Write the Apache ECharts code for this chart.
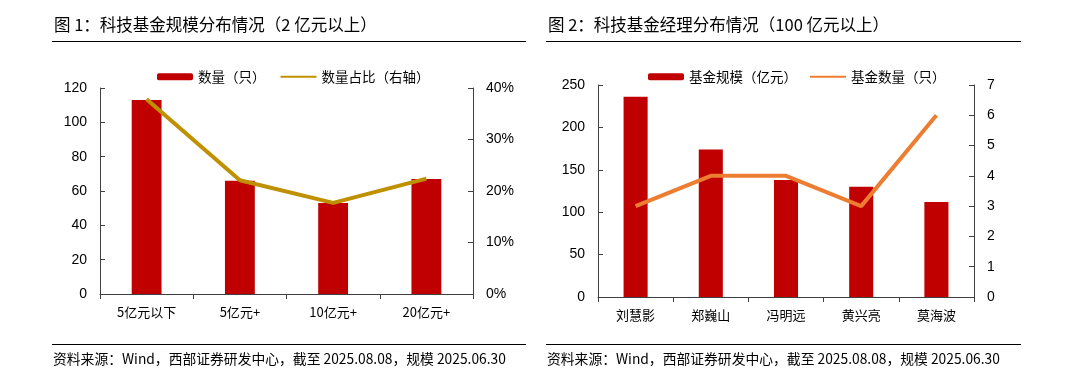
<!DOCTYPE html>
<html>
<head>
<meta charset="utf-8">
<script src="https://cdn.jsdelivr.net/npm/echarts@6/dist/echarts.min.js"></script>
<style>
html,body{margin:0;padding:0;background:#fff;}
#c{width:1071px;height:384px;}
</style>
</head>
<body>
<div id="c"></div>
<script>
// ---- Data ----
const cats1 = ['5亿元以下', '5亿元+', '10亿元+', '20亿元+'];
const count1 = [113, 66, 53, 67];
const share1 = [0.378, 0.221, 0.177, 0.224];
const cats2 = ['刘慧影', '郑巍山', '冯明远', '黄兴亮', '莫海波'];
const scale2 = [236, 174, 138, 130, 112];
const count2 = [3, 4, 4, 3, 6];

const title1 = '图 1：科技基金规模分布情况（2 亿元以上）';
const title2 = '图 2：科技基金经理分布情况（100 亿元以上）';
const source = '资料来源：Wind，西部证券研发中心，截至 2025.08.08，规模 2025.06.30';

const CJK = '"Noto Sans CJK SC", sans-serif';
const NUM = '"Liberation Sans", Arial, sans-serif';
const axisColor = '#404040';

const chart = echarts.init(document.getElementById('c'));

function valAxis(gridIndex, position, min, max, interval, formatter) {
  return {
    type: 'value', gridIndex, position, min, max, interval,
    axisLine: {show: true, lineStyle: {color: axisColor, width: 1}},
    axisTick: {show: true, inside: true, length: 5, lineStyle: {color: axisColor}},
    splitLine: {show: false},
    axisLabel: {color: '#000', fontFamily: NUM, fontSize: 14, margin: 13, formatter}
  };
}
function catAxis(gridIndex, data) {
  return {
    type: 'category', gridIndex, data,
    axisLine: {show: true, lineStyle: {color: axisColor, width: 1}},
    axisTick: {show: true, length: 5, lineStyle: {color: axisColor}},
    axisLabel: {color: '#000', fontFamily: CJK, fontSize: 13, margin: 12}
  };
}
const hideSym = {opacity: 0};

chart.setOption({
  animation: false,
  backgroundColor: '#fff',
  grid: [
    {left: 100, top: 88, width: 373, height: 206},
    {left: 598, top: 85, width: 376, height: 212}
  ],
  legend: [
    {left: 152, top: 65, itemWidth: 36, itemHeight: 7, itemGap: 14,
     textStyle: {fontFamily: CJK, fontSize: 13.5, color: '#000'},
     data: [{name: '数量（只）'}, {name: '数量占比（右轴）', itemStyle: hideSym}]},
    {left: 643, top: 65, itemWidth: 36, itemHeight: 7, itemGap: 12,
     textStyle: {fontFamily: CJK, fontSize: 13.5, color: '#000'},
     data: [{name: '基金规模（亿元）'}, {name: '基金数量（只）', itemStyle: hideSym}]}
  ],
  xAxis: [catAxis(0, cats1), catAxis(1, cats2)],
  yAxis: [
    valAxis(0, 'left', 0, 120, 20),
    valAxis(0, 'right', 0, 0.4, 0.1, v => Math.round(v * 100) + '%'),
    valAxis(1, 'left', 0, 250, 50),
    valAxis(1, 'right', 0, 7, 1)
  ],
  series: [
    {name: '数量（只）', type: 'bar', xAxisIndex: 0, yAxisIndex: 0, data: count1,
     barWidth: '32%', itemStyle: {color: '#C00000'}},
    {name: '数量占比（右轴）', type: 'line', xAxisIndex: 0, yAxisIndex: 1, data: share1,
     symbol: 'none', lineStyle: {color: '#BF9000', width: 4}, itemStyle: {color: '#BF9000'}},
    {name: '基金规模（亿元）', type: 'bar', xAxisIndex: 1, yAxisIndex: 2, data: scale2,
     barWidth: '32%', itemStyle: {color: '#C00000'}},
    {name: '基金数量（只）', type: 'line', xAxisIndex: 1, yAxisIndex: 3, data: count2,
     symbol: 'none', lineStyle: {color: '#ED7D31', width: 4}, itemStyle: {color: '#ED7D31'}}
  ],
  graphic: [
    {type: 'text', left: 54, top: 16, style: {text: title1, font: '16.5px ' + CJK, fill: '#000'}},
    {type: 'text', left: 548, top: 16, style: {text: title2, font: '16.5px ' + CJK, fill: '#000'}},
    {type: 'line', shape: {x1: 52, y1: 41.5, x2: 526, y2: 41.5}, style: {stroke: '#000', lineWidth: 1}},
    {type: 'line', shape: {x1: 546, y1: 41.5, x2: 1021, y2: 41.5}, style: {stroke: '#000', lineWidth: 1}},
    {type: 'line', shape: {x1: 52, y1: 344.5, x2: 526, y2: 344.5}, style: {stroke: '#000', lineWidth: 1}},
    {type: 'line', shape: {x1: 546, y1: 344.5, x2: 1021, y2: 344.5}, style: {stroke: '#000', lineWidth: 1}},
    {type: 'text', left: 53, top: 352, style: {text: source, font: '13.8px ' + CJK, fill: '#000'}},
    {type: 'text', left: 547, top: 352, style: {text: source, font: '13.8px ' + CJK, fill: '#000'}}
  ]
});
</script>
</body>
</html>
